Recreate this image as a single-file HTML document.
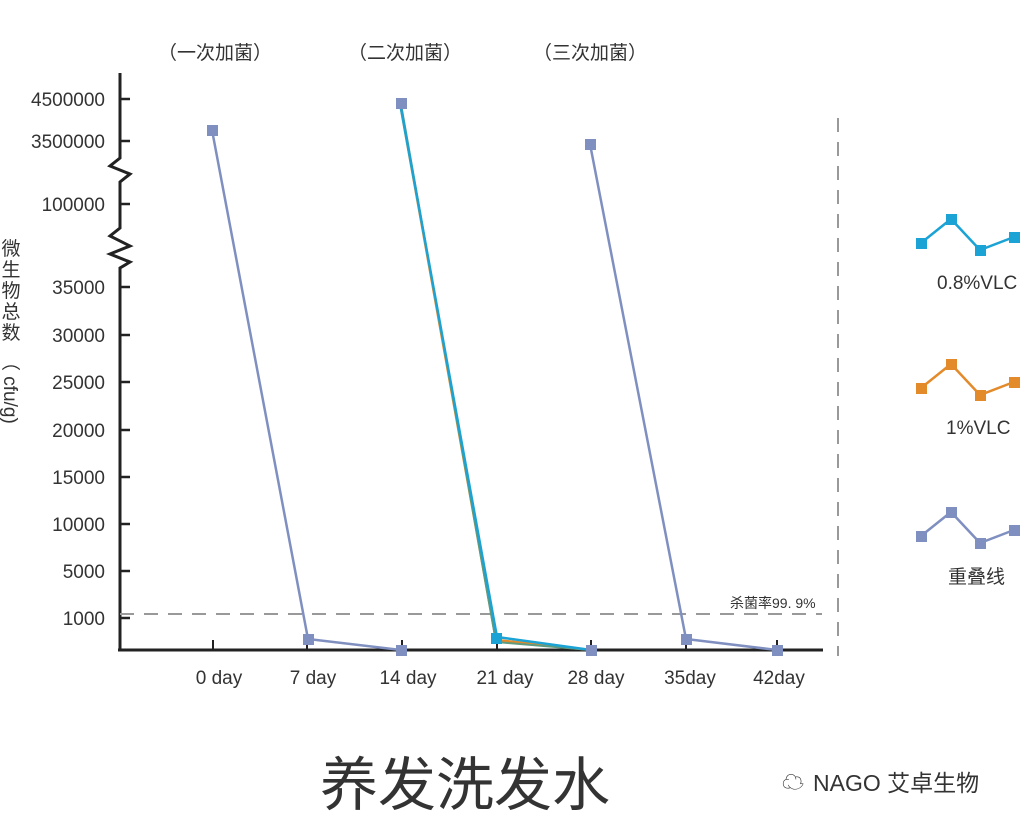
<!DOCTYPE html>
<html><head><meta charset="utf-8"><style>
html,body{margin:0;padding:0;background:#fff;}
svg{display:block;}
text{font-family:"Liberation Sans","Noto Sans CJK SC",sans-serif;fill:#333;}
</style></head><body>
<svg width="1022" height="829" viewBox="0 0 1022 829" xmlns="http://www.w3.org/2000/svg">
<g font-size="19" text-anchor="middle">
<text x="215" y="59">（一次加菌）</text>
<text x="405" y="59">（二次加菌）</text>
<text x="590" y="59">（三次加菌）</text>
</g>
<path d="M120 73 V158 L110 166 L130 174 L120 182 V228 L110 236 L130 246 L110 254 L130 262 L120 268 V651" fill="none" stroke="#222" stroke-width="3"/>
<g stroke="#222" stroke-width="2.5">
<line x1="120" y1="99" x2="130" y2="99"/><line x1="120" y1="141" x2="130" y2="141"/><line x1="120" y1="204" x2="130" y2="204"/>
<line x1="120" y1="287" x2="130" y2="287"/><line x1="120" y1="335" x2="130" y2="335"/><line x1="120" y1="382" x2="130" y2="382"/>
<line x1="120" y1="430" x2="130" y2="430"/><line x1="120" y1="477" x2="130" y2="477"/><line x1="120" y1="524" x2="130" y2="524"/>
<line x1="120" y1="571" x2="130" y2="571"/><line x1="120" y1="618" x2="130" y2="618"/>
</g>
<g font-size="19" text-anchor="end">
<text x="105" y="106">4500000</text><text x="105" y="148">3500000</text><text x="105" y="211">100000</text>
<text x="105" y="294">35000</text><text x="105" y="342">30000</text><text x="105" y="389">25000</text>
<text x="105" y="437">20000</text><text x="105" y="484">15000</text><text x="105" y="531">10000</text>
<text x="105" y="578">5000</text><text x="105" y="625">1000</text>
</g>
<g font-size="19" text-anchor="middle">
<text x="11" y="255">微</text><text x="11" y="276">生</text><text x="11" y="297">物</text><text x="11" y="318">总</text><text x="11" y="339">数</text>
</g>
<text x="0" y="0" font-size="19" transform="translate(4,352) rotate(90)">（ cfu/g)</text>
<line x1="118" y1="650" x2="823" y2="650" stroke="#222" stroke-width="3"/>
<g stroke="#222" stroke-width="2">
<line x1="213" y1="640" x2="213" y2="650"/><line x1="307" y1="640" x2="307" y2="650"/><line x1="402" y1="640" x2="402" y2="650"/>
<line x1="497" y1="640" x2="497" y2="650"/><line x1="591" y1="640" x2="591" y2="650"/><line x1="686" y1="640" x2="686" y2="650"/><line x1="777" y1="640" x2="777" y2="650"/>
</g>
<g font-size="19" text-anchor="middle">
<text x="219" y="684">0 day</text><text x="313" y="684">7 day</text><text x="408" y="684">14 day</text>
<text x="505" y="684">21 day</text><text x="596" y="684">28 day</text><text x="690" y="684">35day</text><text x="779" y="684">42day</text>
</g>
<line x1="120" y1="614" x2="822" y2="614" stroke="#999" stroke-width="2" stroke-dasharray="14,10"/>
<text x="730" y="608" font-size="14">杀菌率99. 9%</text>
<line x1="838" y1="118" x2="838" y2="656" stroke="#999" stroke-width="2" stroke-dasharray="14,10"/>
<polyline points="400,103 496,640 591,650" fill="none" stroke="#e38a2a" stroke-width="2.5"/>
<polyline points="401,104 496,642 591,650" fill="none" stroke="#5d9a80" stroke-width="2"/>
<polyline points="400,103 497,637 591,650" fill="none" stroke="#1aa3d4" stroke-width="2.5"/>
<polyline points="212,130 308,639 401,650" fill="none" stroke="#7f8fc0" stroke-width="2.5"/>
<polyline points="590,144 686,639 777,650" fill="none" stroke="#7f8fc0" stroke-width="2.5"/>
<g fill="#7f8fc0">
<rect x="207" y="125" width="11" height="11"/><rect x="303" y="634" width="11" height="11"/><rect x="396" y="645" width="11" height="11"/>
<rect x="396" y="98" width="11" height="11"/><rect x="586" y="645" width="11" height="11"/>
<rect x="585" y="139" width="11" height="11"/><rect x="681" y="634" width="11" height="11"/><rect x="772" y="645" width="11" height="11"/>
</g>
<rect x="491" y="633" width="11" height="11" fill="#1aa3d4"/>
<polyline points="921,243 951,219 980,250 1014,237" fill="none" stroke="#1aa3d4" stroke-width="2.5"/>
<g fill="#1aa3d4"><rect x="916" y="238" width="11" height="11"/><rect x="946" y="214" width="11" height="11"/><rect x="975" y="245" width="11" height="11"/><rect x="1009" y="232" width="11" height="11"/></g>
<text x="937" y="289" font-size="19">0.8%VLC</text>
<polyline points="921,388 951,364 980,395 1014,382" fill="none" stroke="#e38a2a" stroke-width="2.5"/>
<g fill="#e38a2a"><rect x="916" y="383" width="11" height="11"/><rect x="946" y="359" width="11" height="11"/><rect x="975" y="390" width="11" height="11"/><rect x="1009" y="377" width="11" height="11"/></g>
<text x="946" y="434" font-size="19">1%VLC</text>
<polyline points="921,536 951,512 980,543 1014,530" fill="none" stroke="#7f8fc0" stroke-width="2.5"/>
<g fill="#7f8fc0"><rect x="916" y="531" width="11" height="11"/><rect x="946" y="507" width="11" height="11"/><rect x="975" y="538" width="11" height="11"/><rect x="1009" y="525" width="11" height="11"/></g>
<text x="948" y="583" font-size="19">重叠线</text>
<text x="465" y="805" font-size="58" text-anchor="middle">养发洗发水</text>
<text x="782" y="790" font-size="22" fill="#666">☁</text>
<text x="813" y="791" font-size="23" fill="#555">NAGO 艾卓生物</text>
</svg>
</body></html>
